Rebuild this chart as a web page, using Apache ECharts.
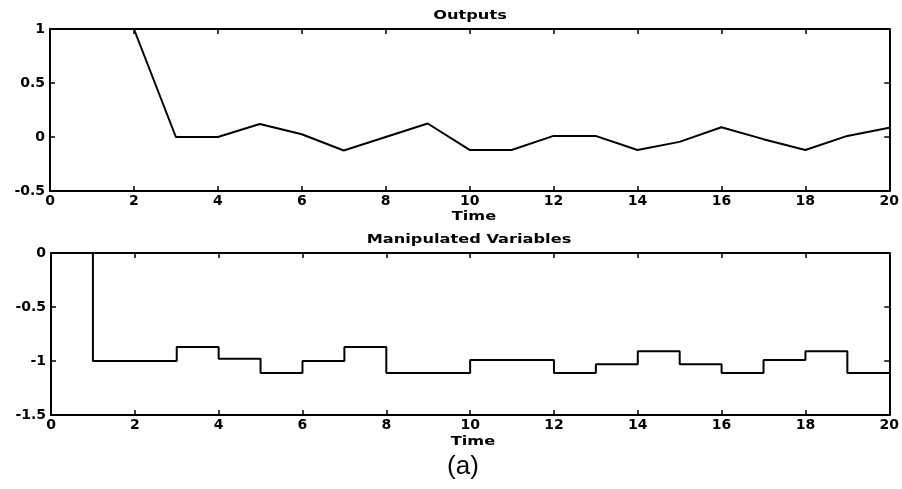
<!DOCTYPE html>
<html lang="en">
<head>
    <meta charset="utf-8">
    <title>Outputs / Manipulated Variables</title>
    <script src="https://cdn.jsdelivr.net/npm/echarts@6/dist/echarts.min.js"></script>
    <style>
        html, body, #main {
            width: 100%;
            height: 100%;
            margin: 0;
            padding: 0;
            overflow: hidden;
            background-color: #ffffff;
        }
    </style>
</head>
<body>
<div id="main"></div>
<script>
    // time steps shared by both panels
    var time = [0, 1, 2, 3, 4, 5, 6, 7, 8, 9, 10, 11, 12, 13, 14, 15, 16, 17, 18, 19, 20];

    var outputs = [1, 1, 1, 0, 0, 0.12, 0.025, -0.125, 0, 0.125, -0.12, -0.12, 0.01, 0.01, -0.12, -0.045, 0.09, -0.02, -0.12, 0.01, 0.085];
    var manipulated = [0, -1, -1, -0.87, -0.98, -1.11, -1.0, -0.87, -1.11, -1.11, -0.99, -0.99, -1.11, -1.03, -0.91, -1.03, -1.11, -0.99, -0.91, -1.11, -1.11];

    var xTicks = [0, 2, 4, 6, 8, 10, 12, 14, 16, 18, 20];
    var yTicksTop = [-0.5, 0, 0.5, 1];
    var yTicksBottom = [-1.5, -1, -0.5, 0];

    function pairs(ys) {
        var out = [];
        for (var i = 0; i < time.length; i++) {
            out.push([time[i], ys[i]]);
        }
        return out;
    }

    var labelFont = {
        color: '#000',
        fontFamily: 'DejaVu Sans',
        fontWeight: 'bold',
        fontSize: 14
    };
    var lineStyle = {color: '#000', width: 2};

    function xAx(gridIndex, pos, showLabel) {
        return {
            type: 'value', gridIndex: gridIndex, position: pos,
            min: xTicks[0], max: xTicks[xTicks.length - 1], interval: 2,
            axisLine: {show: true, onZero: false, lineStyle: lineStyle},
            axisTick: {show: true, inside: true, length: 5, lineStyle: {color: '#000', width: 1.5}},
            axisLabel: Object.assign({show: showLabel, margin: 3}, labelFont),
            splitLine: {show: false}
        };
    }

    function yAx(gridIndex, pos, ticks, showLabel) {
        return {
            type: 'value', gridIndex: gridIndex, position: pos,
            min: ticks[0], max: ticks[ticks.length - 1], interval: 0.5,
            axisLine: {show: true, onZero: false, lineStyle: lineStyle},
            axisTick: {show: true, inside: true, length: 5, lineStyle: {color: '#000', width: 1.5}},
            axisLabel: Object.assign({show: showLabel, margin: 5}, labelFont),
            splitLine: {show: false}
        };
    }

    // stretched bold captions, the scan is wider than a normal font
    function caption(text, x, y, font, sx) {
        return {
            type: 'text', x: x, y: y, scaleX: sx, silent: true,
            style: {
                text: text, fill: '#000', font: font,
                textAlign: 'center', textVerticalAlign: 'middle',
                align: 'center', verticalAlign: 'middle'
            }
        };
    }

    var chart = echarts.init(document.getElementById('main'));
    var capFont = 'bold 12px "DejaVu Sans"';

    chart.setOption({
        animation: false,
        backgroundColor: '#fff',
        graphic: [
            caption('Outputs', 470, 16, capFont, 1.35),
            caption('Time', 474, 217, capFont, 1.35),
            caption('Manipulated Variables', 469, 240, capFont, 1.35),
            caption('Time', 473, 442, capFont, 1.35),
            caption('(a)', 463, 467, '26px "Liberation Sans"', 1.0)
        ],
        grid: [
            {left: 50, top: 29, width: 840, height: 162},
            {left: 51, top: 253, width: 840, height: 162}
        ],
        xAxis: [
            xAx(0, 'bottom', true),
            xAx(0, 'top', false),
            xAx(1, 'bottom', true),
            xAx(1, 'top', false)
        ],
        yAxis: [
            yAx(0, 'left', yTicksTop, true),
            yAx(0, 'right', yTicksTop, false),
            yAx(1, 'left', yTicksBottom, true),
            yAx(1, 'right', yTicksBottom, false)
        ],
        series: [
            {
                name: 'Outputs', type: 'line', xAxisIndex: 0, yAxisIndex: 0,
                data: pairs(outputs), symbol: 'none',
                lineStyle: {color: '#000', width: 2}
            },
            {
                name: 'Manipulated Variables', type: 'line', xAxisIndex: 2, yAxisIndex: 2,
                data: pairs(manipulated), symbol: 'none', step: 'end',
                lineStyle: {color: '#000', width: 2}
            }
        ]
    });
</script>
</body>
</html>
